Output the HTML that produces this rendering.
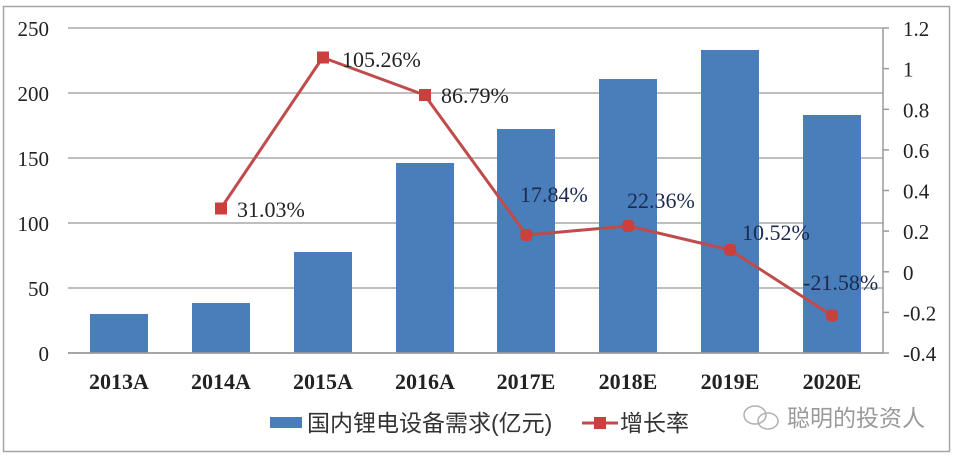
<!DOCTYPE html>
<html>
<head>
<meta charset="utf-8">
<style>
html,body{margin:0;padding:0;background:#fff;}
svg{display:block;}
</style>
</head>
<body>
<svg width="958" height="458" viewBox="0 0 958 458" xmlns="http://www.w3.org/2000/svg">
  <rect x="0" y="0" width="958" height="458" fill="#ffffff"/>
  <!-- outer frame -->
  <rect x="3.5" y="6.5" width="946" height="445" fill="#ffffff" stroke="#a6a6a6" stroke-width="1.5"/>

  <!-- gridlines -->
  <g stroke="#a8a8a8" stroke-width="1.5">
    <line x1="68" y1="28" x2="883" y2="28"/>
    <line x1="68" y1="93" x2="883" y2="93"/>
    <line x1="68" y1="158" x2="883" y2="158"/>
    <line x1="68" y1="223" x2="883" y2="223"/>
    <line x1="68" y1="288" x2="883" y2="288"/>
  </g>

  <!-- bars -->
  <g fill="#4a7ebb">
    <rect x="90" y="314" width="58" height="39"/>
    <rect x="192" y="303" width="58" height="50"/>
    <rect x="294" y="252" width="58" height="101"/>
    <rect x="396" y="163" width="58" height="190"/>
    <rect x="497" y="129" width="58" height="224"/>
    <rect x="599" y="79" width="58" height="274"/>
    <rect x="701" y="50" width="58" height="303"/>
    <rect x="803" y="115" width="58" height="238"/>
  </g>

  <!-- x axis -->
  <line x1="68" y1="353" x2="883" y2="353" stroke="#9a9a9a" stroke-width="1.8"/>
  <!-- right axis -->
  <line x1="883" y1="28" x2="883" y2="353" stroke="#9a9a9a" stroke-width="1.5"/>
  <g stroke="#9a9a9a" stroke-width="1.5">
    <line x1="883" y1="28" x2="889" y2="28"/>
    <line x1="883" y1="68.6" x2="889" y2="68.6"/>
    <line x1="883" y1="109.3" x2="889" y2="109.3"/>
    <line x1="883" y1="149.9" x2="889" y2="149.9"/>
    <line x1="883" y1="190.5" x2="889" y2="190.5"/>
    <line x1="883" y1="231.1" x2="889" y2="231.1"/>
    <line x1="883" y1="271.8" x2="889" y2="271.8"/>
    <line x1="883" y1="312.4" x2="889" y2="312.4"/>
    <line x1="883" y1="353" x2="889" y2="353"/>
  </g>

  <!-- left tick labels -->
  <g font-family="Liberation Serif, serif" font-size="21" fill="#222" text-anchor="end">
    <text x="49" y="36">250</text>
    <text x="49" y="101">200</text>
    <text x="49" y="166">150</text>
    <text x="49" y="231">100</text>
    <text x="49" y="296">50</text>
    <text x="49" y="361">0</text>
  </g>

  <!-- right tick labels -->
  <g font-family="Liberation Serif, serif" font-size="21" fill="#222" text-anchor="start">
    <text x="903" y="36">1.2</text>
    <text x="903" y="76.6">1</text>
    <text x="903" y="117.3">0.8</text>
    <text x="903" y="157.9">0.6</text>
    <text x="903" y="198.5">0.4</text>
    <text x="903" y="239.1">0.2</text>
    <text x="903" y="279.8">0</text>
    <text x="903" y="320.4">-0.2</text>
    <text x="903" y="361">-0.4</text>
  </g>

  <!-- x labels -->
  <g font-family="Liberation Serif, serif" font-size="22" font-weight="bold" fill="#222" text-anchor="middle">
    <text x="119" y="389">2013A</text>
    <text x="221" y="389">2014A</text>
    <text x="323" y="389">2015A</text>
    <text x="425" y="389">2016A</text>
    <text x="526" y="389">2017E</text>
    <text x="628" y="389">2018E</text>
    <text x="730" y="389">2019E</text>
    <text x="832" y="389">2020E</text>
  </g>

  <!-- growth line -->
  <polyline points="220.8,208.5 322.7,57.5 424.6,95 526.4,235 628.3,226 730.2,250 832.1,315.6"
    fill="none" stroke="#bf4b4b" stroke-width="3" stroke-linejoin="round"/>
  <g fill="#c9403f">
    <rect x="215" y="202.5" width="12" height="12"/>
    <rect x="317" y="51.5" width="12" height="12"/>
    <rect x="419" y="89" width="12" height="12"/>
    <rect x="520.4" y="229" width="12" height="12" rx="4"/>
    <rect x="622.3" y="220" width="12" height="12" rx="4"/>
    <rect x="724.2" y="244" width="12" height="12" rx="4"/>
    <rect x="826.1" y="309.6" width="12" height="12" rx="4"/>
  </g>

  <!-- data labels -->
  <g font-family="Liberation Serif, serif" font-size="22">
    <text x="237" y="217" fill="#222">31.03%</text>
    <text x="342" y="67" fill="#222">105.26%</text>
    <text x="441" y="103" fill="#222">86.79%</text>
    <text x="520" y="202" fill="#1b2a4e">17.84%</text>
    <text x="627" y="208" fill="#1b2a4e">22.36%</text>
    <text x="742" y="240" fill="#1b2a4e">10.52%</text>
    <text x="803" y="290" fill="#1b2a4e">-21.58%</text>
  </g>

  <!-- legend -->
  <rect x="270" y="417" width="32" height="11" fill="#4a7ebb"/>
  <text x="307" y="431" font-family="Liberation Sans, Noto Sans CJK SC, sans-serif" font-size="23" fill="#333">国内锂电设备需求(亿元)</text>
  <line x1="582" y1="423" x2="618" y2="423" stroke="#bf4b4b" stroke-width="3"/>
  <rect x="594" y="417" width="12" height="12" fill="#c9403f"/>
  <text x="620" y="431" font-family="Liberation Sans, Noto Sans CJK SC, sans-serif" font-size="23" fill="#333">增长率</text>

  <!-- watermark -->
  <g fill="none" stroke="#b0b0b0" stroke-width="1.5">
    <ellipse cx="755" cy="415" rx="11" ry="9"/>
    <ellipse cx="768" cy="421" rx="10" ry="8"/>
  </g>
  <text x="787" y="426" font-family="Liberation Sans, Noto Sans CJK SC, sans-serif" font-size="23" fill="#9a9a9a">聪明的投资人</text>
</svg>
</body>
</html>
